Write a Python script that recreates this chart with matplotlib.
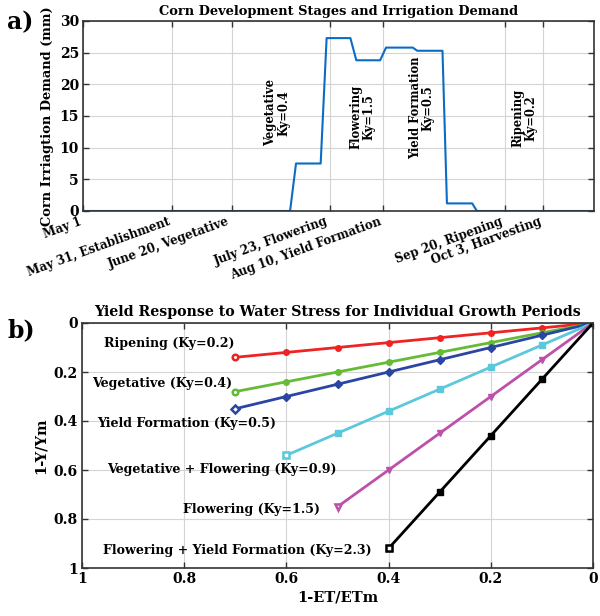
import numpy as np
import matplotlib.pyplot as plt

plt.rcParams['font.family'] = ['DejaVu Serif']
plt.rcParams['font.weight'] = 'bold'

# (a) irrigation demand, day counted from May 1
demand_day = [0, 69.7, 71.7, 80, 82, 90, 92, 100, 102, 111, 112.5, 121, 122.5, 131, 132.6, 172]
demand_mm = [0, 0, 7.5, 7.5, 27.3, 27.3, 23.8, 23.8, 25.8, 25.8, 25.3, 25.3, 1.2, 1.2, 0, 0]
stage_day = [0, 30, 50, 83, 101, 142, 155]
stage_labels = ['May 1', 'May 31, Establishment', 'June 20, Vegetative', 'July 23, Flowering',
                'Aug 10, Yield Formation', 'Sep 20, Ripening', 'Oct 3, Harvesting']
ann_text = ['Vegetative\nKy=0.4', 'Flowering\nKy=1.5', 'Yield Formation\nKy=0.5', 'Ripening\nKy=0.2']
ann_day = [65.3, 94, 114, 148.5]
ann_y = [15.5, 14.8, 16.3, 14.7]

# (b) yield response
ky_names = ['Ripening', 'Vegetative', 'Yield Formation', 'Vegetative + Flowering',
            'Flowering', 'Flowering + Yield Formation']
ky_values = [0.2, 0.4, 0.5, 0.9, 1.5, 2.3]
ky_maxdef = [0.7, 0.7, 0.7, 0.6, 0.5, 0.4]
ky_colors = ['#ee2424', '#66bb36', '#2b45a3', '#5cc8dc', '#bd50aa', '#000000']
ky_markers = ['o', 'o', 'D', 's', 'v', 's']
lab_x = [0.957, 0.98, 0.971, 0.951, 0.802, 0.959]
lab_y = [0.082, 0.245, 0.41, 0.6, 0.76, 0.93]

fig = plt.figure(figsize=(6, 6.16), dpi=100)
W, H = 600, 616


def box(l, t, r, b):
    return [l / W, 1 - b / H, (r - l) / W, (b - t) / H]


def style(ax):
    ax.grid(True, color='#d4d4d4', linewidth=0.8)
    ax.set_axisbelow(True)
    ax.tick_params(direction='in', top=True, right=True, length=4, width=1,
                   color='#333333', labelsize=10, pad=3)
    for s in ax.spines.values():
        s.set_color('#333333')
        s.set_linewidth(1.2)


ax1 = fig.add_axes(box(83, 21, 594, 211))
ax1.plot(demand_day, demand_mm, color='#0a6cc4', linewidth=1.5)
ax1.set_xlim(0, 172)
ax1.set_ylim(0, 30)
ax1.set_yticks(range(0, 31, 5))
ax1.set_xticks(stage_day)
style(ax1)
ax1.set_xticklabels(stage_labels, rotation=20, ha='right', fontsize=8.5)
ax1.set_ylabel('Corn Irriagtion Demand (mm)', fontsize=9.4, fontweight='bold', labelpad=4)
ax1.set_title('Corn Development Stages and Irrigation Demand', fontsize=9.4,
              fontweight='bold', pad=4)
for t, d, y in zip(ann_text, ann_day, ann_y):
    ax1.text(d, y, t, rotation=90, ha='center', va='center', fontsize=8.3,
             multialignment='center', linespacing=1.0)

ax2 = fig.add_axes(box(82, 323, 593, 568))
for k, m, c, mk in zip(ky_values, ky_maxdef, ky_colors, ky_markers):
    x = np.round(np.arange(0, m + 0.001, 0.1), 2)
    y = k * x
    ax2.plot(x, y, color=c, linewidth=2, marker=mk, markersize=4)
    ax2.plot(x[-1], y[-1], linestyle='none', marker=mk, markersize=4,
             markerfacecolor='white', markeredgecolor=c, markeredgewidth=1.8)
for n, k, lx, ly in zip(ky_names, ky_values, lab_x, lab_y):
    ax2.text(lx, ly, f'{n} (Ky={k})', ha='left', va='center', fontsize=9.1)
ax2.set_xlim(1, 0)
ax2.set_ylim(1, 0)
ax2.set_xticks(np.arange(0, 1.01, 0.2))
ax2.set_yticks(np.arange(0, 1.01, 0.2))
style(ax2)
ax2.set_xticklabels(['0', '0.2', '0.4', '0.6', '0.8', '1'])
ax2.set_yticklabels(['0', '0.2', '0.4', '0.6', '0.8', '1'])
ax2.set_xlabel('1-ET/ETm', fontsize=10.5, fontweight='bold', labelpad=3)
ax2.set_ylabel('1-Y/Ym', fontsize=10.5, fontweight='bold', labelpad=4)
ax2.set_title('Yield Response to Water Stress for Individual Growth Periods',
              fontsize=10.2, fontweight='bold', pad=5)

fig.text(7 / W, 1 - 22 / H, 'a)', fontsize=17, fontweight='bold', va='center')
fig.text(7 / W, 1 - 330 / H, 'b)', fontsize=17, fontweight='bold', va='center')

fig.savefig('out.png', dpi=100)
